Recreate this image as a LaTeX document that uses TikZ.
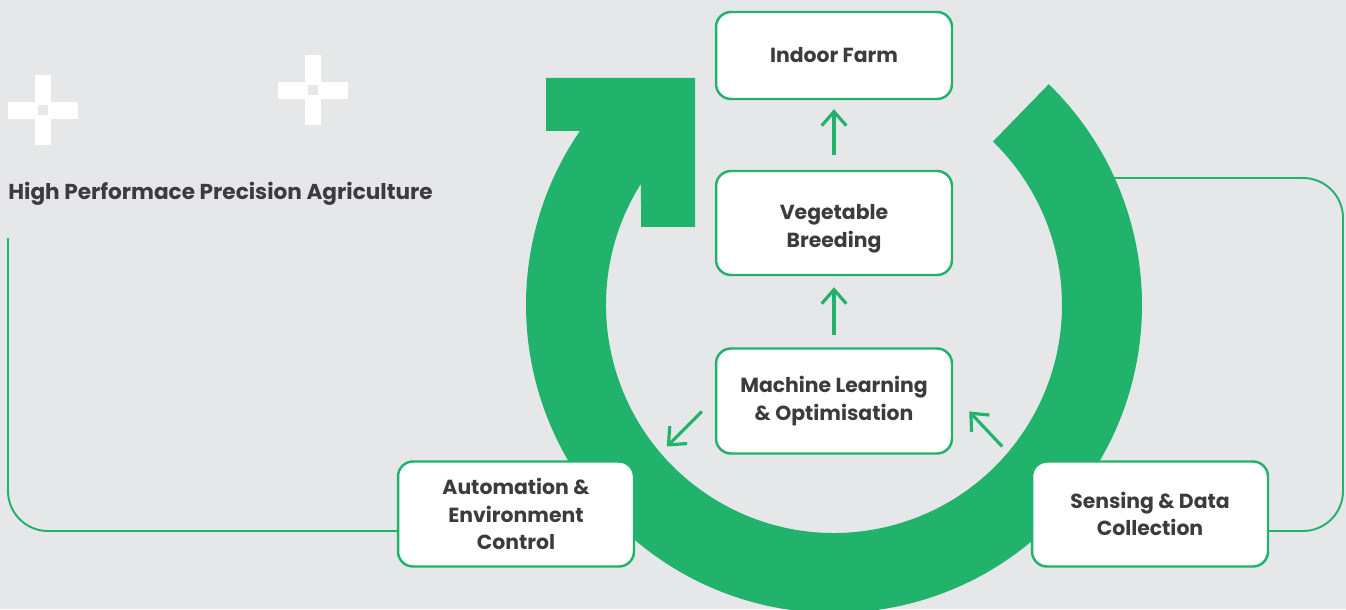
\documentclass[tikz,border=0pt]{standalone}
\usepackage{fontspec}
\setmainfont{Poppins}
\usetikzlibrary{arrows.meta,backgrounds}
\definecolor{leaf}{RGB}{33,178,108}
\definecolor{paper}{RGB}{230,231,233}
\definecolor{ink}{RGB}{60,60,62}

\begin{document}
\begin{tikzpicture}
        [x=0.02cm, y=0.02cm,
        box/.style={draw=leaf, fill=white, line width=1.4pt, rounded corners=0.3cm, minimum width=4.72cm, minimum height=2.1cm, align=center, text=ink, font=\bfseries\fontsize{11.6}{15.6}\selectfont},
        flow/.style={leaf, line width=1.8pt, -{Straight Barb[length=8pt, width=14pt]}},
        link/.style={leaf, line width=1.1pt, rounded corners=0.8cm},
        ring/.style={fill=leaf}]

        \useasboundingbox (0,0) rectangle (1346,609);

        \node[box, minimum height=1.74cm] (farm) at (834,553.5) {Indoor Farm};
        \node[box, minimum height=2.08cm] (veg) at (834,386) {\rule{0pt}{15pt}Vegetable\\Breeding};
        \node[box] (ml) at (834,208) {Machine Learning\\\& Optimisation};
        \node[box] (auto) at (516,95) {Automation \&\\Environment\\Control};
        \node[box] (sense) at (1150,95) {Sensing \& Data\\Collection};

        % title and the two plus marks
        \node[anchor=west, inner sep=0, text=ink, font=\bfseries\fontsize{12.3}{16}\selectfont] (title) at (8,415) {High Performace Precision Agriculture};
        \foreach \px/\py in {43/498.5, 313/518.5} {
            \fill[white] (\px-35,\py-8.3) rectangle (\px+35,\py+8.3);
            \fill[white] (\px-8.3,\py-35) rectangle (\px+8.3,\py+35);
            \fill[paper] (\px-5,\py-5) rectangle (\px+5,\py+5);
        }

        % arrows between the boxes
        \draw[flow] ([shift={(0,15)}]veg.north) -- ([shift={(0,-9)}]farm.south);
        \draw[flow] ([shift={(0,12.5)}]ml.north) -- ([shift={(0,-11)}]veg.south);
        \draw[flow] ([shift={(-13,-10.5)}]ml.west) -- ++(-35,-35);
        \draw[flow] ([shift={(49,-45.5)}]ml.east) -- ++(-33,35);

        \begin{pgfonlayer}{background}
        \fill[paper] (0,0) rectangle (1346,609);
        % thin side lines
        \coordinate (ltop) at (8,371);
        \coordinate (rtop) at (1100,431);
        \coordinate (rside) at (1343,300);
        \draw[link] (ltop) |- ([shift={(0,-17)}]auto.west);
        \draw[link] (rtop) -| (rside) |- ([shift={(0,-17)}]sense.east);
        % big cycle arrow
        \fill[ring] ([shift={(834,304)}]45.8:308) arc[start angle=45.8, end angle=-214.4, radius=308]
            -- (546,478) -- (546,531) -- (695,531) -- (695,382) -- (641,382)
            -- ([shift={(834,304)}]147.84:228) arc[start angle=147.84, end angle=405.8, radius=228] -- cycle;
        \end{pgfonlayer}

\end{tikzpicture}
\end{document}
